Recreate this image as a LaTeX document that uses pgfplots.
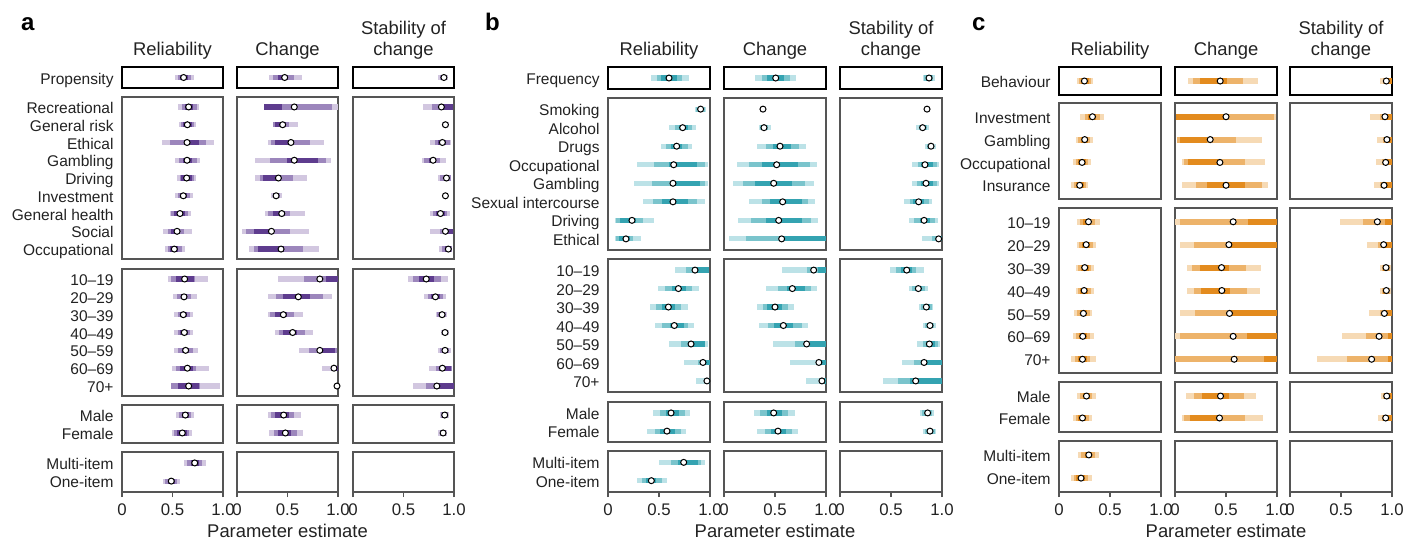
\documentclass[border=0pt]{standalone}
\usepackage{fontspec}
\setmainfont{Liberation Sans}
\setsansfont{Liberation Sans}
\usepackage{pgfplots}
\usepackage{pgfplotstable}
\pgfplotsset{compat=1.18}

\definecolor{aL}{HTML}{D2C7E0}
\definecolor{aM}{HTML}{9C86BC}
\definecolor{aD}{HTML}{5E3C8E}
\definecolor{bL}{HTML}{BCE2E7}
\definecolor{bM}{HTML}{7AC4CC}
\definecolor{bD}{HTML}{34A3B1}
\definecolor{cL}{HTML}{F6DAB5}
\definecolor{cM}{HTML}{EDB36A}
\definecolor{cD}{HTML}{E38B1E}
\definecolor{frame}{HTML}{555555}
\definecolor{txt}{HTML}{222222}

\newcommand{\rowfont}{\fontsize{7.75}{9}\selectfont}
\newcommand{\headfont}{\fontsize{9.2}{11}\selectfont}

% intervals: light = widest, medium, dark = narrowest; white dot = estimate
\newcommand{\ivs}[3]{%
  \addplot[draw=none, forget plot, error bars/.cd, x dir=both, x explicit, error mark=none,
    error bar style={line width=#2, draw=#1L}]
    table[x expr=(\thisrow{l3}+\thisrow{u3})/2, y=y, x error expr=(\thisrow{u3}-\thisrow{l3})/2]{#3};
  \addplot[draw=none, forget plot, error bars/.cd, x dir=both, x explicit, error mark=none,
    error bar style={line width=#2, draw=#1M}]
    table[x expr=(\thisrow{l2}+\thisrow{u2})/2, y=y, x error expr=(\thisrow{u2}-\thisrow{l2})/2]{#3};
  \addplot[draw=none, forget plot, error bars/.cd, x dir=both, x explicit, error mark=none,
    error bar style={line width=#2, draw=#1D}]
    table[x expr=(\thisrow{l1}+\thisrow{u1})/2, y=y, x error expr=(\thisrow{u1}-\thisrow{l1})/2]{#3};
  \addplot[only marks, mark=*, mark size=1.5pt,
    mark options={fill=white, draw=black, line width=0.5pt}] table[x=e, y=y]{#3};
}

\pgfplotsset{
  cell/.style={scale only axis, anchor=north west, xmin=0, xmax=1, y dir=reverse,
    xtick=\empty, ytick=\empty, tick align=outside, major tick length=2.5pt,
    axis line style={draw=frame, line width=0.75pt},
    ytick style={draw=none},
    yticklabel style={font=\rowfont, text=txt, text height=1.55ex, text depth=0.3ex, xshift=1.8pt},
    xtick style={draw=frame, line width=0.6pt},
    xticklabel style={font=\fontsize{8.4}{10}\selectfont, text=txt}},
  top/.style={axis line style={draw=black, line width=0.9pt}},
  bottom/.style={xtick={0,0.5,1}, xticklabels={0,0.5,1.0}, xtick pos=bottom},
  pa/.style={cell, width=50.5pt},
  pb/.style={cell, width=51pt},
}

% ---------------- panel a ----------------
\pgfplotstableread{
y l3 l2 l1 e u1 u2 u3
0 .525 .55 .57 .61 .65 .68 .71
}\aRA
\pgfplotstableread{
y l3 l2 l1 e u1 u2 u3
0 .555 .59 .62 .66 .70 .74 .76
1 .565 .58 .60 .647 .69 .71 .733
2 .396 .475 .617 .644 .762 .832 .908
3 .525 .565 .60 .644 .69 .74 .772
4 .545 .57 .585 .64 .69 .71 .733
5 .525 .55 .575 .607 .64 .67 .70
6 .472 .49 .515 .574 .624 .65 .68
7 .406 .452 .49 .545 .574 .614 .693
8 .426 .452 .48 .518 .558 .59 .624
}\aRB
\pgfplotstableread{
y l3 l2 l1 e u1 u2 u3
0 .455 .485 .53 .62 .71 .72 .85
1 .505 .545 .585 .614 .647 .683 .74
2 .515 .55 .575 .607 .647 .673 .70
3 .515 .55 .575 .617 .65 .673 .70
4 .515 .555 .59 .63 .667 .70 .75
5 .495 .535 .575 .647 .70 .733 .86
6 .485 .485 .555 .66 .762 .77 .97
}\aRC
\pgfplotstableread{
y l3 l2 l1 e u1 u2 u3
0 .535 .565 .59 .627 .667 .683 .713
1 .495 .515 .548 .597 .64 .66 .693
}\aRD
\pgfplotstableread{
y l3 l2 l1 e u1 u2 u3
0 .614 .64 .68 .72 .762 .79 .832
1 .406 .426 .452 .488 .525 .548 .574
}\aRE
\pgfplotstableread{
y l3 l2 l1 e u1 u2 u3
0 .32 .354 .407 .472 .505 .567 .646
}\aCA
\pgfplotstableread{
y l3 l2 l1 e u1 u2 u3
0 .265 .265 .265 .567 .45 .94 1.0
1 .354 .354 .374 .452 .49 .518 .607
2 .302 .341 .374 .534 .55 .725 .862
3 .174 .328 .492 .567 .803 .879 .928
4 .174 .223 .262 .41 .44 .557 .69
5 .338 .354 .36 .387 .41 .426 .446
6 .282 .308 .36 .443 .479 .528 .672
7 .046 .092 .164 .341 .354 .528 .715
8 .115 .164 .21 .436 .469 .656 .813
}\aCB
\pgfplotstableread{
y l3 l2 l1 e u1 u2 u3
0 .41 .666 .882 .82 1 1 1
1 .311 .387 .459 .607 .725 .852 .938
2 .302 .328 .374 .459 .492 .567 .656
3 .38 .42 .459 .551 .59 .675 .754
4 .616 .715 .80 .82 .967 .99 .99
5 .84 .928 .96 .96 1 1 1
6 .99 .99 .99 .99 1 1 1
}\aCC
\pgfplotstableread{
y l3 l2 l1 e u1 u2 u3
0 .302 .341 .38 .462 .518 .567 .636
1 .32 .364 .407 .479 .534 .59 .656
}\aCD
\pgfplotstableread{
y l3 l2 l1 e u1 u2 u3
0 .846 .866 .88 .90 .915 .928 .944
}\aSA
\pgfplotstableread{
y l3 l2 l1 e u1 u2 u3
0 .692 .78 .88 .875 .99 .99 .99
1 .885 .895 .90 .915 .925 .935 .948
2 .767 .81 .843 .885 .92 .957 .974
3 .682 .702 .748 .793 .826 .866 .918
4 .839 .859 .898 .925 .954 .97 .974
5 .90 .905 .91 .915 .92 .925 .93
6 .767 .793 .826 .866 .908 .931 .964
7 .76 .86 .89 .915 .993 .993 .993
8 .85 .885 .91 .944 .975 .983 .984
}\aSB
\pgfplotstableread{
y l3 l2 l1 e u1 u2 u3
0 .544 .59 .656 .725 .80 .869 .938
1 .702 .744 .77 .816 .859 .892 .925
2 .82 .836 .849 .882 .905 .918 .934
3 .869 .885 .90 .911 .925 .938 .948
4 .839 .866 .885 .911 .944 .954 .967
5 .751 .82 .852 .885 .974 .98 .98
6 .593 .721 .81 .83 1 1 1
}\aSC
\pgfplotstableread{
y l3 l2 l1 e u1 u2 u3
0 .859 .875 .89 .908 .925 .938 .948
1 .839 .859 .875 .892 .91 .925 .934
}\aSD

% ---------------- panel b ----------------
\pgfplotstableread{
y l3 l2 l1 e u1 u2 u3
0 .418 .484 .523 .598 .68 .729 .79
}\bRA
\pgfplotstableread{
y l3 l2 l1 e u1 u2 u3
0 .85 .866 .88 .908 .93 .95 .964
1 .595 .654 .693 .732 .784 .827 .86
2 .516 .572 .62 .673 .729 .784 .82
3 .281 .448 .598 .644 .869 .948 .977
4 .252 .428 .62 .637 .899 .95 .977
5 .34 .438 .533 .637 .781 .869 .948
6 .065 .082 .114 .235 .278 .34 .454
7 .065 .082 .108 .176 .212 .242 .32
}\bRB
\pgfplotstableread{
y l3 l2 l1 e u1 u2 u3
0 .654 .768 .833 .853 .99 .99 .99
1 .487 .556 .627 .69 .768 .827 .889
2 .408 .467 .526 .592 .654 .712 .781
3 .458 .526 .605 .65 .742 .781 .84
4 .595 .712 .794 .814 .954 .954 .977
5 .742 .88 .957 .931 1 1 1
6 .859 .95 .98 .97 1 1 1
}\bRC
\pgfplotstableread{
y l3 l2 l1 e u1 u2 u3
0 .438 .507 .572 .618 .693 .752 .80
1 .379 .458 .507 .578 .654 .712 .761
}\bRD
\pgfplotstableread{
y l3 l2 l1 e u1 u2 u3
0 .497 .614 .686 .742 .882 .915 .948
1 .281 .33 .369 .425 .474 .526 .575
}\bRE
\pgfplotstableread{
y l3 l2 l1 e u1 u2 u3
0 .301 .376 .422 .507 .585 .644 .703
}\bCA
\pgfplotstableread{
y l3 l2 l1 e u1 u2 u3
0 .375 .377 .38 .382 .385 .387 .39
1 .34 .356 .366 .392 .41 .431 .458
2 .32 .408 .48 .549 .654 .732 .80
3 .124 .242 .369 .516 .722 .84 .908
4 .085 .183 .301 .487 .663 .79 .879
5 .242 .369 .448 .575 .761 .824 .889
6 .134 .261 .408 .536 .761 .85 .918
7 .05 .216 .58 .565 1 1 1
}\bCB
\pgfplotstableread{
y l3 l2 l1 e u1 u2 u3
0 .565 .81 .92 .879 1 1 1
1 .408 .526 .614 .67 .79 .85 .908
2 .32 .379 .418 .50 .565 .624 .683
3 .34 .428 .487 .582 .673 .761 .82
4 .477 .693 .84 .81 1 1 1
5 .644 .905 .95 .93 1 1 1
6 .80 .95 .98 .96 1 1 1
}\bCC
\pgfplotstableread{
y l3 l2 l1 e u1 u2 u3
0 .291 .35 .418 .487 .565 .624 .693
1 .32 .399 .458 .529 .605 .663 .722
}\bCD
\pgfplotstableread{
y l3 l2 l1 e u1 u2 u3
0 .81 .82 .84 .873 .90 .912 .928
}\bSA
\pgfplotstableread{
y l3 l2 l1 e u1 u2 u3
0 .845 .848 .85 .853 .856 .858 .86
1 .748 .771 .79 .81 .84 .853 .873
2 .833 .853 .87 .892 .91 .925 .938
3 .709 .761 .794 .833 .912 .95 .974
4 .709 .755 .794 .843 .912 .95 .967
5 .631 .683 .716 .771 .82 .869 .905
6 .676 .722 .781 .824 .886 .935 .961
7 .807 .90 .95 .967 1 1 1
}\bSB
\pgfplotstableread{
y l3 l2 l1 e u1 u2 u3
0 .49 .546 .598 .654 .703 .748 .824
1 .68 .709 .732 .768 .804 .83 .863
2 .778 .797 .82 .846 .879 .899 .915
3 .817 .837 .853 .882 .908 .925 .941
4 .758 .814 .846 .876 .935 .958 .98
5 .611 .729 .797 .824 1 1 1
6 .425 .572 .69 .742 1 1 1
}\bSC
\pgfplotstableread{
y l3 l2 l1 e u1 u2 u3
0 .788 .807 .83 .859 .886 .905 .922
1 .817 .833 .853 .882 .908 .93 .944
}\bSD

% ---------------- panel c ----------------
\pgfplotstableread{
y l3 l2 l1 e u1 u2 u3
0 .174 .197 .22 .249 .295 .318 .338
}\cRA
\pgfplotstableread{
y l3 l2 l1 e u1 u2 u3
0 .203 .252 .285 .328 .361 .397 .439
1 .164 .19 .216 .252 .289 .308 .338
2 .141 .164 .19 .226 .262 .289 .311
3 .121 .144 .17 .203 .243 .269 .289
}\cRB
\pgfplotstableread{
y l3 l2 l1 e u1 u2 u3
0 .174 .21 .236 .289 .318 .354 .40
1 .174 .197 .23 .266 .308 .334 .361
2 .17 .19 .216 .252 .295 .318 .341
3 .164 .184 .21 .246 .289 .315 .341
4 .151 .177 .203 .239 .275 .302 .328
5 .141 .164 .193 .233 .275 .302 .341
6 .121 .154 .187 .23 .275 .302 .361
}\cRC
\pgfplotstableread{
y l3 l2 l1 e u1 u2 u3
0 .18 .21 .236 .269 .308 .328 .361
1 .141 .164 .19 .23 .269 .295 .321
}\cRD
\pgfplotstableread{
y l3 l2 l1 e u1 u2 u3
0 .19 .22 .252 .292 .328 .357 .39
1 .121 .144 .17 .216 .252 .282 .328
}\cRE
\pgfplotstableread{
y l3 l2 l1 e u1 u2 u3
0 .128 .18 .246 .443 .508 .669 .816
}\cCA
\pgfplotstableread{
y l3 l2 l1 e u1 u2 u3
0 .01 .01 .01 .50 .49 .97 .99
1 .02 .02 .05 .345 .31 .60 .853
2 .07 .09 .125 .44 .44 .69 .88
3 .07 .206 .314 .50 .686 .853 .91
}\cCB
\pgfplotstableread{
y l3 l2 l1 e u1 u2 u3
0 0 .05 .718 .57 1 1 1
1 .05 .187 .52 .528 1 1 1
2 .118 .167 .246 .456 .531 .698 .846
3 .118 .187 .256 .459 .541 .708 .836
4 .05 .197 .53 .534 1 1 1
5 0 .05 .708 .57 1 1 1
6 0 0 .875 .58 1 1 1
}\cCC
\pgfplotstableread{
y l3 l2 l1 e u1 u2 u3
0 .108 .187 .266 .446 .531 .679 .797
1 .069 .089 .148 .436 .45 .689 .866
}\cCD
\pgfplotstableread{
y l3 l2 l1 e u1 u2 u3
0 .879 .912 .94 .944 1 1 1
}\cSA
\pgfplotstableread{
y l3 l2 l1 e u1 u2 u3
0 .781 .879 .905 .931 1 1 1
1 .85 .912 .94 .95 1 1 1
2 .84 .899 .925 .938 1 1 1
3 .82 .879 .905 .922 1 1 1
}\cSB
\pgfplotstableread{
y l3 l2 l1 e u1 u2 u3
0 .487 .716 .928 .856 1 1 1
1 .752 .863 .905 .918 1 1 1
2 .879 .899 .915 .941 .96 .98 .993
3 .879 .899 .915 .944 .96 .98 .993
4 .771 .879 .944 .925 1 1 1
5 .507 .742 .958 .873 1 1 1
6 .261 .556 .958 .80 1 1 1
}\cSC
\pgfplotstableread{
y l3 l2 l1 e u1 u2 u3
0 .889 .912 .93 .948 1 1 1
1 .86 .899 .93 .938 1 1 1
}\cSD

\begin{document}
\begin{tikzpicture}
\useasboundingbox (0,0) rectangle (708pt,-271.5pt);

% panel letters and column heads
\node[anchor=base west, font=\bfseries\fontsize{12}{12}\selectfont] at (7pt,-15pt) {a};
\node[anchor=base west, font=\bfseries\fontsize{12}{12}\selectfont] at (239pt,-15pt) {b};
\node[anchor=base west, font=\bfseries\fontsize{12}{12}\selectfont] at (482.5pt,-15pt) {c};
\foreach \cx/\cy/\cz in {86.25/143.75/201.75, 329.5/387.5/445.5, 555/613/670.5}{
  \node[anchor=base, font=\headfont, text=txt] at (\cx pt,-27.5pt) {Reliability};
  \node[anchor=base, font=\headfont, text=txt] at (\cy pt,-27.5pt) {Change};
  \node[anchor=base, font=\headfont, text=txt] at (\cz pt,-17pt) {Stability of};
  \node[anchor=base, font=\headfont, text=txt] at (\cz pt,-27.5pt) {change};
  \node[anchor=base, font=\headfont, text=txt] at (\cy pt,-268.5pt) {Parameter estimate};
}

% ===== panel a =====
\begin{axis}[pa, top, at={(61pt,-33.5pt)}, height=10.5pt, ymin=-0.5, ymax=0.5,
  ytick={0}, yticklabels={Propensity}]
\ivs{a}{2.6pt}{\aRA}
\end{axis}
\begin{axis}[pa, top, at={(118.5pt,-33.5pt)}, height=10.5pt, ymin=-0.5, ymax=0.5]
\ivs{a}{2.6pt}{\aCA}
\end{axis}
\begin{axis}[pa, top, at={(176.5pt,-33.5pt)}, height=10.5pt, ymin=-0.5, ymax=0.5]
\ivs{a}{2.6pt}{\aSA}
\end{axis}

\begin{axis}[pa, at={(61pt,-48.5pt)}, height=81pt, ymin=-0.56, ymax=8.56,
  ytick={0,...,8}, yticklabels={Recreational,General risk,Ethical,Gambling,Driving,Investment,General health,Social,Occupational}]
\ivs{a}{2.6pt}{\aRB}
\end{axis}
\begin{axis}[pa, at={(118.5pt,-48.5pt)}, height=81pt, ymin=-0.56, ymax=8.56]
\ivs{a}{2.6pt}{\aCB}
\end{axis}
\begin{axis}[pa, at={(176.5pt,-48.5pt)}, height=81pt, ymin=-0.56, ymax=8.56]
\ivs{a}{2.6pt}{\aSB}
\end{axis}

\begin{axis}[pa, at={(61pt,-134.5pt)}, height=63.5pt, ymin=-0.56, ymax=6.56,
  ytick={0,...,6}, yticklabels={10--19,20--29,30--39,40--49,50--59,60--69,70+}]
\ivs{a}{2.6pt}{\aRC}
\end{axis}
\begin{axis}[pa, at={(118.5pt,-134.5pt)}, height=63.5pt, ymin=-0.56, ymax=6.56]
\ivs{a}{2.6pt}{\aCC}
\end{axis}
\begin{axis}[pa, at={(176.5pt,-134.5pt)}, height=63.5pt, ymin=-0.56, ymax=6.56]
\ivs{a}{2.6pt}{\aSC}
\end{axis}

\begin{axis}[pa, at={(61pt,-202.5pt)}, height=19pt, ymin=-0.56, ymax=1.56,
  ytick={0,1}, yticklabels={Male,Female}]
\ivs{a}{2.6pt}{\aRD}
\end{axis}
\begin{axis}[pa, at={(118.5pt,-202.5pt)}, height=19pt, ymin=-0.56, ymax=1.56]
\ivs{a}{2.6pt}{\aCD}
\end{axis}
\begin{axis}[pa, at={(176.5pt,-202.5pt)}, height=19pt, ymin=-0.56, ymax=1.56]
\ivs{a}{2.6pt}{\aSD}
\end{axis}

\begin{axis}[pa, bottom, at={(61pt,-226pt)}, height=20pt, ymin=-0.6, ymax=1.6,
  ytick={0,1}, yticklabels={Multi-item,One-item}]
\ivs{a}{2.6pt}{\aRE}
\end{axis}
\begin{axis}[pa, bottom, at={(118.5pt,-226pt)}, height=20pt, ymin=-0.6, ymax=1.6]
\end{axis}
\begin{axis}[pa, bottom, at={(176.5pt,-226pt)}, height=20pt, ymin=-0.6, ymax=1.6]
\end{axis}

% ===== panel b =====
\begin{axis}[pb, top, at={(304pt,-33.5pt)}, height=11pt, ymin=-0.5, ymax=0.5,
  ytick={0}, yticklabels={Frequency}]
\ivs{b}{2.6pt}{\bRA}
\end{axis}
\begin{axis}[pb, top, at={(362pt,-33.5pt)}, height=11pt, ymin=-0.5, ymax=0.5]
\ivs{b}{2.6pt}{\bCA}
\end{axis}
\begin{axis}[pb, top, at={(420pt,-33.5pt)}, height=11pt, ymin=-0.5, ymax=0.5]
\ivs{b}{2.6pt}{\bSA}
\end{axis}

\begin{axis}[pb, at={(304pt,-49pt)}, height=76pt, ymin=-0.6, ymax=7.6,
  ytick={0,...,7}, yticklabels={Smoking,Alcohol,Drugs,Occupational,Gambling,Sexual intercourse,Driving,Ethical}]
\ivs{b}{2.6pt}{\bRB}
\end{axis}
\begin{axis}[pb, at={(362pt,-49pt)}, height=76pt, ymin=-0.6, ymax=7.6]
\ivs{b}{2.6pt}{\bCB}
\end{axis}
\begin{axis}[pb, at={(420pt,-49pt)}, height=76pt, ymin=-0.6, ymax=7.6]
\ivs{b}{2.6pt}{\bSB}
\end{axis}

\begin{axis}[pb, at={(304pt,-129.5pt)}, height=66.5pt, ymin=-0.6, ymax=6.6,
  ytick={0,...,6}, yticklabels={10--19,20--29,30--39,40--49,50--59,60--69,70+}]
\ivs{b}{2.6pt}{\bRC}
\end{axis}
\begin{axis}[pb, at={(362pt,-129.5pt)}, height=66.5pt, ymin=-0.6, ymax=6.6]
\ivs{b}{2.6pt}{\bCC}
\end{axis}
\begin{axis}[pb, at={(420pt,-129.5pt)}, height=66.5pt, ymin=-0.6, ymax=6.6]
\ivs{b}{2.6pt}{\bSC}
\end{axis}

\begin{axis}[pb, at={(304pt,-201pt)}, height=20pt, ymin=-0.6, ymax=1.6,
  ytick={0,1}, yticklabels={Male,Female}]
\ivs{b}{2.6pt}{\bRD}
\end{axis}
\begin{axis}[pb, at={(362pt,-201pt)}, height=20pt, ymin=-0.6, ymax=1.6]
\ivs{b}{2.6pt}{\bCD}
\end{axis}
\begin{axis}[pb, at={(420pt,-201pt)}, height=20pt, ymin=-0.6, ymax=1.6]
\ivs{b}{2.6pt}{\bSD}
\end{axis}

\begin{axis}[pb, bottom, at={(304pt,-225.5pt)}, height=20.5pt, ymin=-0.62, ymax=1.62,
  ytick={0,1}, yticklabels={Multi-item,One-item}]
\ivs{b}{2.6pt}{\bRE}
\end{axis}
\begin{axis}[pb, bottom, at={(362pt,-225.5pt)}, height=20.5pt, ymin=-0.62, ymax=1.62]
\end{axis}
\begin{axis}[pb, bottom, at={(420pt,-225.5pt)}, height=20.5pt, ymin=-0.62, ymax=1.62]
\end{axis}

% ===== panel c =====
\begin{axis}[pb, top, at={(529.5pt,-33.5pt)}, height=14pt, ymin=-0.5, ymax=0.5,
  ytick={0}, yticklabels={Behaviour}]
\ivs{c}{3pt}{\cRA}
\end{axis}
\begin{axis}[pb, top, at={(587.5pt,-33.5pt)}, height=14pt, ymin=-0.5, ymax=0.5]
\ivs{c}{3pt}{\cCA}
\end{axis}
\begin{axis}[pb, top, at={(645pt,-33.5pt)}, height=14pt, ymin=-0.5, ymax=0.5]
\ivs{c}{3pt}{\cSA}
\end{axis}

\begin{axis}[pb, at={(529.5pt,-51.5pt)}, height=48pt, ymin=-0.6, ymax=3.6,
  ytick={0,...,3}, yticklabels={Investment,Gambling,Occupational,Insurance}]
\ivs{c}{3pt}{\cRB}
\end{axis}
\begin{axis}[pb, at={(587.5pt,-51.5pt)}, height=48pt, ymin=-0.6, ymax=3.6]
\ivs{c}{3pt}{\cCB}
\end{axis}
\begin{axis}[pb, at={(645pt,-51.5pt)}, height=48pt, ymin=-0.6, ymax=3.6]
\ivs{c}{3pt}{\cSB}
\end{axis}

\begin{axis}[pb, at={(529.5pt,-104pt)}, height=82.5pt, ymin=-0.6, ymax=6.6,
  ytick={0,...,6}, yticklabels={10--19,20--29,30--39,40--49,50--59,60--69,70+}]
\ivs{c}{3pt}{\cRC}
\end{axis}
\begin{axis}[pb, at={(587.5pt,-104pt)}, height=82.5pt, ymin=-0.6, ymax=6.6]
\ivs{c}{3pt}{\cCC}
\end{axis}
\begin{axis}[pb, at={(645pt,-104pt)}, height=82.5pt, ymin=-0.6, ymax=6.6]
\ivs{c}{3pt}{\cSC}
\end{axis}

\begin{axis}[pb, at={(529.5pt,-191pt)}, height=25pt, ymin=-0.64, ymax=1.64,
  ytick={0,1}, yticklabels={Male,Female}]
\ivs{c}{3pt}{\cRD}
\end{axis}
\begin{axis}[pb, at={(587.5pt,-191pt)}, height=25pt, ymin=-0.64, ymax=1.64]
\ivs{c}{3pt}{\cCD}
\end{axis}
\begin{axis}[pb, at={(645pt,-191pt)}, height=25pt, ymin=-0.64, ymax=1.64]
\ivs{c}{3pt}{\cSD}
\end{axis}

\begin{axis}[pb, bottom, at={(529.5pt,-220.5pt)}, height=25.5pt, ymin=-0.6, ymax=1.6,
  ytick={0,1}, yticklabels={Multi-item,One-item}]
\ivs{c}{3pt}{\cRE}
\end{axis}
\begin{axis}[pb, bottom, at={(587.5pt,-220.5pt)}, height=25.5pt, ymin=-0.6, ymax=1.6]
\end{axis}
\begin{axis}[pb, bottom, at={(645pt,-220.5pt)}, height=25.5pt, ymin=-0.6, ymax=1.6]
\end{axis}
\end{tikzpicture}
\end{document}
